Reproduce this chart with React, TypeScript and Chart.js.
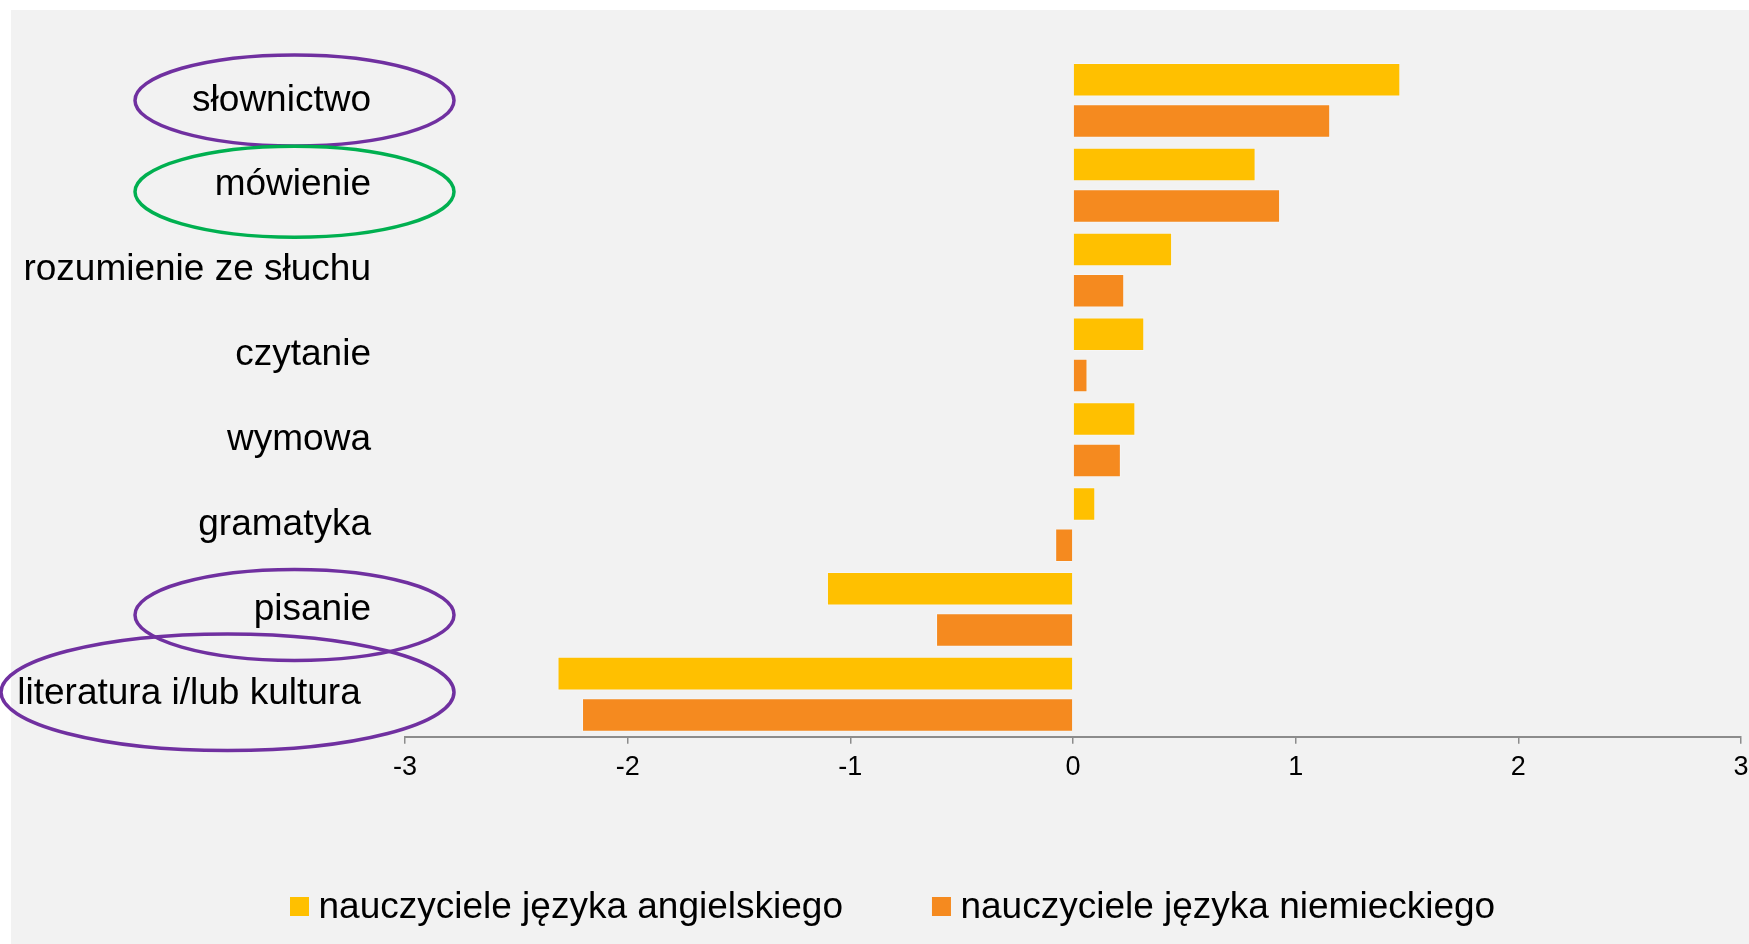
import React, { useEffect, useRef } from "react";
import { Chart, registerables } from "chart.js";

Chart.register(...registerables);

// ---- data ----
const categories = [
  "słownictwo",
  "mówienie",
  "rozumienie ze słuchu",
  "czytanie",
  "wymowa",
  "gramatyka",
  "pisanie",
  "literatura i/lub kultura",
];
const englishTeachers = [1.47, 0.82, 0.445, 0.32, 0.28, 0.1, -1.105, -2.315];
const germanTeachers = [1.155, 0.93, 0.23, 0.065, 0.215, -0.08, -0.615, -2.205];
const seriesNames = ["nauczyciele języka angielskiego", "nauczyciele języka niemieckiego"];
const xMin = -3;
const xMax = 3;
const xStep = 1;

// ---- styles ----
const FONT = '"Liberation Sans", Arial, sans-serif';
const COLORS = ["#FFC000", "#F58A1F"];
const W = 1749;
const H = 944;

// highlighted categories (decoration): category index, colour, geometry
const highlights = [
  { index: 0, color: "#7030A0", cx: 294.5, rx: 159.5, dy: 0, ry: 45.5 },
  { index: 1, color: "#00B050", cx: 294.5, rx: 159.5, dy: 6.5, ry: 45.5 },
  { index: 6, color: "#7030A0", cx: 294.5, rx: 159.5, dy: 5.5, ry: 45.5 },
  { index: 7, color: "#7030A0", cx: 227.5, rx: 226.5, dy: -2, ry: 58.3 },
];

const backgroundPlugin = {
  id: "bg",
  beforeDraw(chart: any) {
    const { ctx } = chart;
    ctx.save();
    ctx.fillStyle = "#FFFFFF";
    ctx.fillRect(0, 0, W, H);
    ctx.fillStyle = "#F2F2F2";
    ctx.fillRect(11, 10, W - 11, H - 10);
    ctx.restore();
  },
};

const ellipsePlugin = {
  id: "ellipses",
  afterDraw(chart: any) {
    const { ctx } = chart;
    const y = chart.scales.y;
    ctx.save();
    ctx.lineWidth = 3.5;
    highlights.forEach((h) => {
      const cy = y.getPixelForValue(h.index) + h.dy;
      ctx.strokeStyle = h.color;
      ctx.beginPath();
      ctx.ellipse(h.cx, cy, h.rx, h.ry, 0, 0, Math.PI * 2);
      ctx.stroke();
    });
    ctx.restore();
  },
};

const legendPlugin = {
  id: "customLegend",
  afterDraw(chart: any) {
    const { ctx } = chart;
    ctx.save();
    ctx.font = `37px ${FONT}`;
    ctx.textBaseline = "alphabetic";
    let x = 290;
    chart.data.datasets.forEach((ds: any) => {
      ctx.fillStyle = ds.backgroundColor;
      ctx.fillRect(x, 897, 19, 19);
      x += 19 + 9.5;
      ctx.fillStyle = "#000000";
      ctx.fillText(ds.label, x, 917.5);
      x += ctx.measureText(ds.label).width + 89;
    });
    ctx.restore();
  },
};

export default function App() {
  const ref = useRef<HTMLCanvasElement | null>(null);

  useEffect(() => {
    if (!ref.current) return;
    const chart = new Chart(ref.current, {
      type: "bar",
      data: {
        labels: categories,
        datasets: [
          {
            label: seriesNames[0],
            data: englishTeachers,
            backgroundColor: COLORS[0],
            borderColor: "rgba(255,255,255,0.35)",
            borderWidth: 1,
            categoryPercentage: 0.974,
            barPercentage: 0.811,
          },
          {
            label: seriesNames[1],
            data: germanTeachers,
            backgroundColor: COLORS[1],
            borderColor: "rgba(255,255,255,0.35)",
            borderWidth: 1,
            categoryPercentage: 0.974,
            barPercentage: 0.811,
          },
        ],
      },
      options: {
        indexAxis: "y",
        responsive: false,
        animation: false,
        devicePixelRatio: 1,
        layout: { padding: { top: 58, right: 8, left: 0, bottom: 0 } },
        plugins: {
          legend: { display: false },
          tooltip: { enabled: false },
        },
        scales: {
          y: {
            type: "category",
            grid: { display: false, drawTicks: false },
            border: { display: false },
            ticks: {
              autoSkip: false,
              color: "#000000",
              font: { family: FONT, size: 37 },
              padding: 34,
              callback: (_v: any, i: number) =>
                i === categories.length - 1 ? categories[i] + " " : categories[i],
            },
            afterFit: (scale: any) => {
              scale.width = 405;
            },
          },
          x: {
            type: "linear",
            min: xMin,
            max: xMax,
            grid: {
              drawOnChartArea: false,
              drawTicks: true,
              tickLength: 7,
              color: "#8C8C8C",
              lineWidth: 1.5,
            },
            border: { display: true, color: "#8C8C8C", width: 2 },
            ticks: {
              stepSize: xStep,
              color: "#000000",
              font: { family: FONT, size: 27 },
              padding: 8,
            },
            afterFit: (scale: any) => {
              scale.height = H - 736.7;
              scale.paddingLeft = 0;
              scale.paddingRight = 0;
            },
          },
        },
      },
      plugins: [backgroundPlugin, ellipsePlugin, legendPlugin],
    });
    return () => chart.destroy();
  }, []);

  return (
    <div style={{ position: "absolute", left: 0, top: 0, width: W, height: H }}>
      <canvas ref={ref} width={W} height={H} style={{ display: "block", width: W, height: H }} />
    </div>
  );
}
